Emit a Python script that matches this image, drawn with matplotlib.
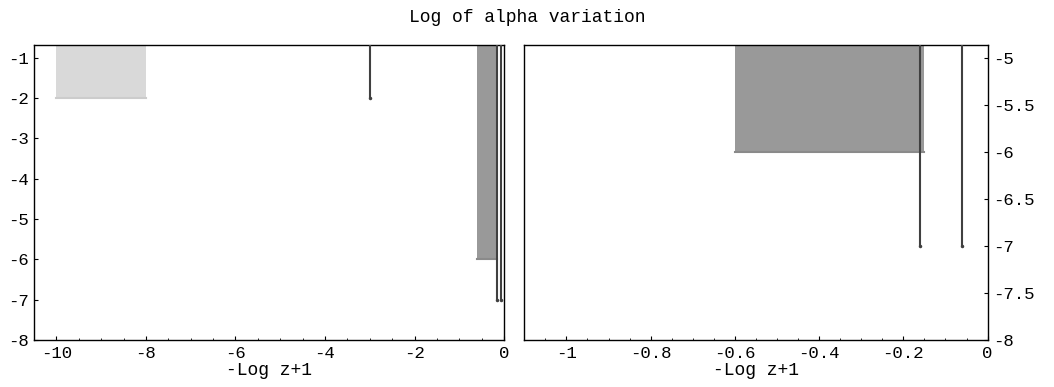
import matplotlib.pyplot as plt
from matplotlib.ticker import FuncFormatter, MultipleLocator

plt.rcParams['font.family'] = ['Liberation Mono', 'DejaVu Sans Mono']
plt.rcParams['axes.unicode_minus'] = False

# shaded bounds: x range and lower limit of log alpha variation
band_x = [(-10.0, -8.0), (-0.6, -0.15)]
band_low = [-2.0, -6.0]
band_colors = ['#d9d9d9', '#999999']
band_edges = ['#cccccc', '#8a8a8a']

# single-redshift limits
line_x = [-3.0, -0.16, -0.06]
line_low = [-2.0, -7.0, -7.0]

upper = 0.0


def tick_fmt(v, pos):
    v = round(v, 6)
    if v == 0:
        return '0'
    return '%g' % v


def draw(ax):
    for (x0, x1), lo, c, ec in zip(band_x, band_low, band_colors, band_edges):
        ax.bar(x0, upper - lo, width=x1 - x0, bottom=lo, align='edge',
               color=c, zorder=1)
        ax.plot([x0, x1], [lo, lo], color=ec, lw=1.5, zorder=2)
    ax.vlines(line_x, line_low, upper, color='#404040', lw=1.5, zorder=3)
    ax.plot(line_x, line_low, 'o', color='#404040', ms=1.5, zorder=3)
    ax.tick_params(direction='in', length=3, labelsize=12.5, width=0.8, pad=4)
    ax.tick_params(which='minor', direction='in', length=1.5, width=0.6)
    ax.set_xlabel('-Log z+1', fontsize=13, labelpad=1)
    fmt = FuncFormatter(tick_fmt)
    ax.xaxis.set_major_formatter(fmt)
    ax.yaxis.set_major_formatter(fmt)
    for s in ax.spines.values():
        s.set_linewidth(1.0)


fig = plt.figure(figsize=(10.54, 3.87), dpi=100)
ax1 = fig.add_axes([0.0323, 0.1214, 0.4459, 0.7616])
ax2 = fig.add_axes([0.4974, 0.1214, 0.4396, 0.7616])

draw(ax1)
ax1.set_xlim(-10.5, 0)
ax1.set_ylim(-8, -0.69)
ax1.xaxis.set_major_locator(MultipleLocator(2))
ax1.xaxis.set_minor_locator(MultipleLocator(0.5))
ax1.yaxis.set_major_locator(MultipleLocator(1))
ax1.tick_params(top=False, right=False)

draw(ax2)
ax2.set_xlim(-1.1, 0)
ax2.set_ylim(-8, -4.865)
ax2.xaxis.set_major_locator(MultipleLocator(0.2))
ax2.xaxis.set_minor_locator(MultipleLocator(0.05))
ax2.yaxis.set_major_locator(MultipleLocator(0.5))
ax2.yaxis.tick_right()

fig.suptitle('Log of alpha variation', fontsize=13, y=0.978)

fig.savefig('out.png', dpi=100)
